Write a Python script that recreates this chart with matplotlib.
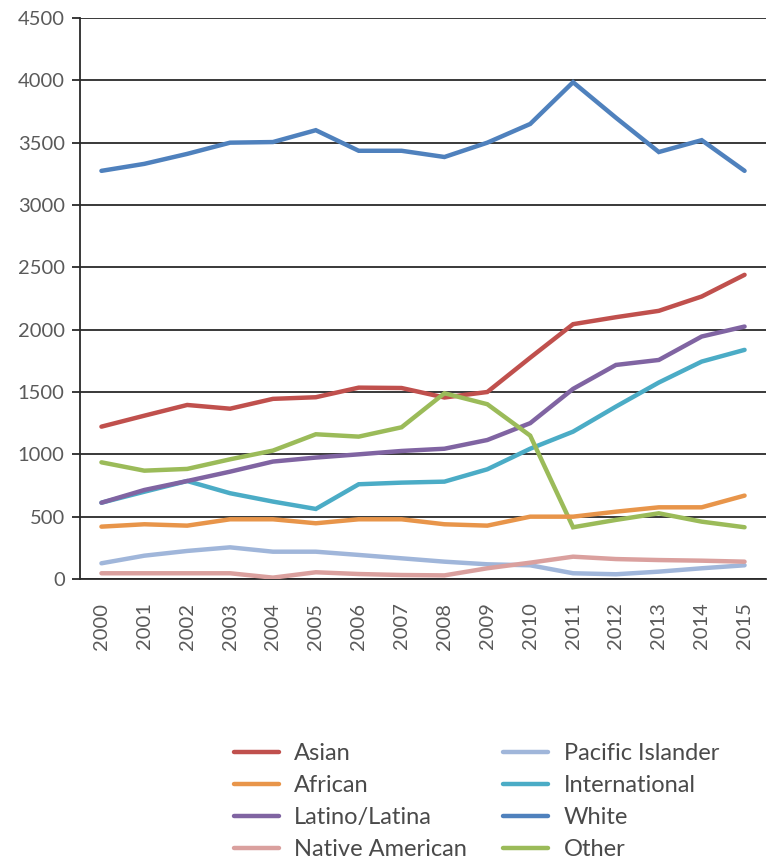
import matplotlib.pyplot as plt
import numpy as np

plt.rcParams['font.family'] = ['Lato', 'DejaVu Sans']

years = [str(y) for y in range(2000, 2016)]

asian = [1222, 1310, 1396, 1366, 1445, 1458, 1535, 1532, 1456, 1500, 1775, 2044, 2100, 2151, 2266, 2440]
african = [420, 439, 428, 479, 479, 447, 479, 479, 439, 428, 500, 500, 540, 575, 575, 669]
latino = [612, 714, 786, 861, 942, 974, 1000, 1027, 1045, 1115, 1250, 1525, 1717, 1757, 1945, 2025]
native_american = [46, 46, 46, 46, 11, 54, 40, 32, 29, 86, 131, 179, 160, 152, 147, 139]
pacific_islander = [126, 187, 225, 254, 219, 219, 193, 166, 139, 118, 110, 46, 38, 59, 86, 110]
international = [612, 700, 786, 688, 621, 562, 760, 773, 781, 880, 1045, 1182, 1383, 1576, 1744, 1838]
white = [3274, 3330, 3410, 3500, 3505, 3600, 3435, 3435, 3385, 3500, 3650, 3985, 3700, 3425, 3520, 3274]
other = [936, 869, 883, 960, 1030, 1161, 1142, 1217, 1490, 1402, 1150, 415, 474, 527, 460, 415]

series = [
    ('Asian', asian, '#C0504D'),
    ('African', african, '#E8954A'),
    ('Latino/Latina', latino, '#8064A2'),
    ('Native American', native_american, '#DAA09E'),
    ('Pacific Islander', pacific_islander, '#A0B6DA'),
    ('International', international, '#4BACC6'),
    ('White', white, '#4F81BD'),
    ('Other', other, '#9BBB59'),
]
draw_order = ['White', 'International', 'Latino/Latina', 'Asian', 'Other',
              'African', 'Pacific Islander', 'Native American']

fig = plt.figure(figsize=(7.74, 8.59), dpi=100)
ax = fig.add_axes([80 / 774, 1 - 579 / 859, 686 / 774, 561 / 859])

x = np.arange(len(years))
lines = {}
for name in draw_order:
    vals, color = [(v, c) for n, v, c in series if n == name][0]
    ln, = ax.plot(x, vals, color=color, lw=3.2, solid_capstyle='round',
                  solid_joinstyle='miter', label=name, zorder=3)
    lines[name] = ln

ax.set_xlim(-0.5, len(years) - 0.5)
ax.set_ylim(0, 4500)
ax.set_yticks(range(0, 4501, 500))
ax.set_xticks(x)
ax.set_xticklabels(years, rotation=90)
ax.yaxis.grid(True, color='#2a2a2a', lw=1.3)
ax.set_axisbelow(True)
for s in ['top', 'right']:
    ax.spines[s].set_visible(False)
for s in ['left', 'bottom']:
    ax.spines[s].set_color('#2a2a2a')
    ax.spines[s].set_linewidth(1.3)
ax.tick_params(axis='y', length=6, width=1.3, color='#2a2a2a', labelsize=14.5,
               labelcolor='#5a5a5a', pad=5)
ax.tick_params(axis='x', length=0, labelsize=14.5, labelcolor='#5a5a5a', pad=17)

handles = [lines[n] for n, _, _ in series]
leg = fig.legend(handles, [n for n, _, _ in series], ncol=2, frameon=False,
                 loc='upper left', bbox_to_anchor=(222 / 774, 1 - 731 / 859),
                 fontsize=17, handlelength=1.9, handletextpad=0.65,
                 columnspacing=1.55, labelspacing=0.47, borderpad=0)
for t in leg.get_texts():
    t.set_color('#4a4a4a')

fig.savefig('out.png', dpi=100)
